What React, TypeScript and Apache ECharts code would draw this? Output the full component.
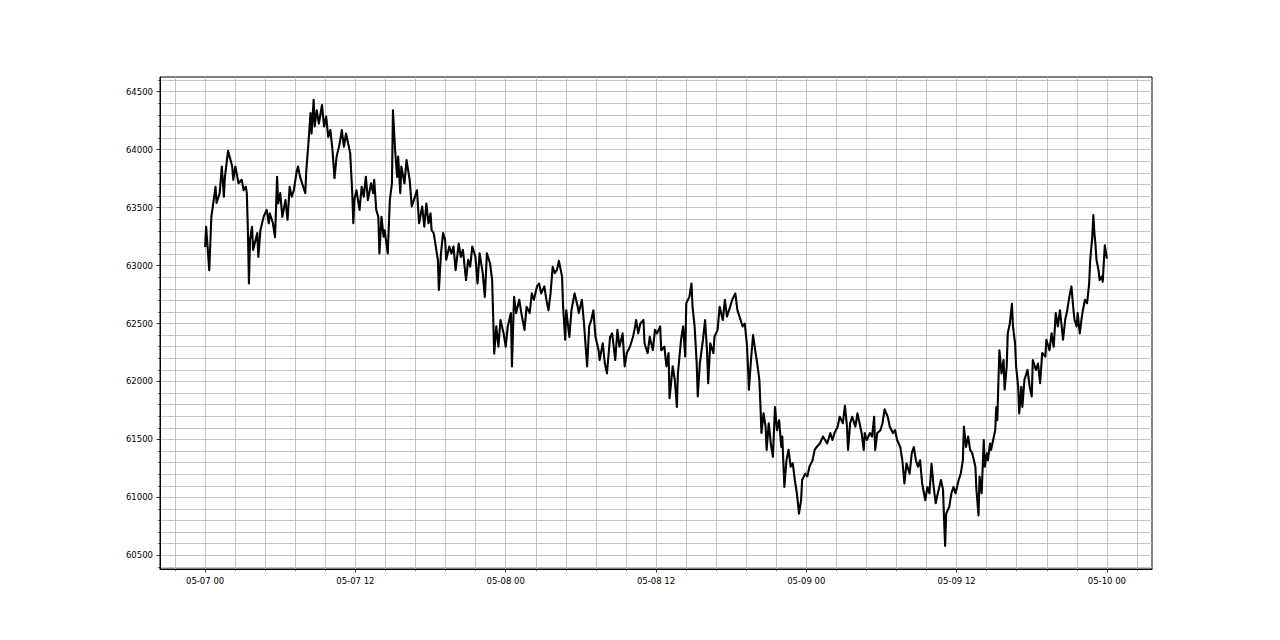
import React, { useEffect, useRef } from "react";
import * as echarts from "echarts";

// [minutes since 05-07 00:00, price]
const may07: [number, number][] = [
  [0,63160],[5,63335],[20,62960],[30,63420],[50,63680],[55,63540],[70,63625],[80,63855],[90,63595],[95,63765],
  [110,63990],[130,63855],[135,63740],[145,63855],[160,63710],[175,63740],[185,63650],[195,63680],[200,63625],[205,63305],
  [210,62845],[215,63220],[225,63335],[230,63135],[250,63280],[255,63075],[265,63305],[280,63420],[295,63480],[305,63365],
  [310,63450],[325,63365],[335,63245],[345,63765],[350,63535],[360,63625],[370,63420],[385,63565],[395,63395],[405,63680],
  [415,63595],[425,63650],[440,63825],[445,63855],[455,63765],[470,63680],[480,63625],[485,63825],[495,64055],[505,64315],
  [510,64140],[520,64430],[525,64200],[535,64340],[545,64225],[560,64385],[570,64200],[580,64285],[590,64110],[600,64170],
  [610,64000],[620,63755],[630,63940],[645,64055],[655,64170],[665,64025],[675,64140],[685,64055],[695,63970],[705,63625],
  [710,63365],[715,63565],[725,63650],[740,63480],[750,63680],[760,63595],[770,63765],[780,63565],[795,63710],[805,63625],
  [810,63740],[820,63480],[830,63420],[835,63105],[845,63420],[855,63250],[860,63305],[875,63105],[885,63565],[895,63710],
  [900,64340],[910,64000],[920,63765],[925,63940],[935,63625],[940,63855],[955,63710],[965,63910],[980,63740],[990,63510],
  [1000,63565],[1015,63650],[1025,63365],[1040,63510],[1050,63335],[1060,63535],[1070,63365],[1080,63450],[1085,63305],[1095,63280],
  [1105,63165],[1115,63050],[1120,62790],[1130,63105],[1140,63280],[1150,63220],[1155,63050],[1170,63165],[1180,63105],[1190,63165],
  [1200,62960],[1215,63190],[1225,63075],[1235,63135],[1250,62875],[1260,63050],[1270,62990],[1280,63165],[1295,63075],[1305,62845],
  [1315,63105],[1330,62935],[1340,62730],[1350,63105],[1365,63020],[1375,62875],[1380,62560],[1385,62240],[1395,62475],[1405,62300],
  [1415,62530],[1430,62415]
];

const may08: [number, number][] = [
  [1440,62300],[1450,62475],[1465,62590],[1470,62130],[1480,62730],[1490,62590],[1505,62705],[1515,62590],[1530,62445],[1540,62645],
  [1555,62590],[1565,62760],[1575,62705],[1590,62820],[1600,62845],[1610,62760],[1625,62820],[1635,62705],[1645,62615],[1655,62760],
  [1665,62990],[1675,62935],[1685,62960],[1695,63040],[1710,62905],[1715,62645],[1725,62360],[1730,62615],[1745,62385],[1755,62615],
  [1770,62760],[1785,62645],[1790,62590],[1805,62705],[1815,62500],[1830,62130],[1840,62475],[1850,62530],[1860,62615],[1870,62385],
  [1885,62270],[1890,62185],[1905,62330],[1915,62155],[1925,62070],[1940,62385],[1950,62415],[1965,62185],[1975,62445],[1985,62300],
  [2000,62415],[2010,62130],[2020,62245],[2035,62300],[2050,62385],[2060,62475],[2065,62530],[2075,62415],[2085,62500],[2100,62530],
  [2105,62330],[2120,62245],[2130,62385],[2145,62270],[2155,62445],[2165,62415],[2180,62475],[2185,62270],[2200,62300],[2210,62130],
  [2220,62245],[2225,61855],[2240,62130],[2250,62015],[2260,61780],[2265,62070],[2280,62360],[2290,62475],[2300,62215],[2305,62675],
  [2320,62730],[2330,62845],[2335,62645],[2345,62475],[2355,62155],[2360,61870],[2370,62155],[2385,62360],[2395,62530],[2405,62245],
  [2410,61985],[2420,62330],[2435,62245],[2440,62385],[2455,62445],[2465,62645],[2480,62530],[2490,62705],[2500,62560],[2515,62645],
  [2525,62705],[2540,62760],[2550,62615],[2560,62560],[2575,62475],[2585,62500],[2595,62330],[2600,62155],[2605,61930],[2615,62185],
  [2625,62400],[2635,62270],[2645,62155],[2655,62015],[2660,61810],[2665,61555],[2675,61725],[2685,61610],[2690,61410],[2700,61640],
  [2710,61465],[2720,61350],[2730,61780],[2740,61580],[2750,61665],[2760,61435],[2765,61525],[2775,61090],[2785,61320],[2795,61410],
  [2805,61265],[2815,61295],[2825,61150],[2835,61035],[2845,60860],[2855,60975],[2860,61150],[2875,61205]
];

const may09: [number, number][] = [
  [2885,61180],[2895,61265],[2910,61320],[2920,61410],[2930,61435],[2945,61465],[2960,61525],[2970,61495],[2980,61465],[2995,61555],
  [3005,61495],[3015,61555],[3030,61610],[3040,61695],[3055,61640],[3065,61790],[3075,61610],[3080,61410],[3090,61640],[3100,61695],
  [3115,61610],[3125,61725],[3135,61640],[3145,61555],[3155,61410],[3160,61555],[3170,61495],[3185,61555],[3195,61525],[3205,61695],
  [3210,61410],[3220,61555],[3235,61580],[3245,61640],[3255,61760],[3270,61695],[3280,61610],[3295,61555],[3305,61580],[3315,61495],
  [3330,61435],[3340,61320],[3350,61120],[3360,61295],[3375,61205],[3385,61380],[3395,61435],[3405,61320],[3415,61265],[3425,61320],
  [3435,61120],[3450,60975],[3460,61090],[3470,61035],[3480,61290],[3490,61090],[3500,60950],[3510,61035],[3525,61150],[3535,61065],
  [3540,60805],[3545,60580],[3550,60860],[3565,60920],[3575,61035],[3585,61090],[3595,61035],[3610,61150],[3620,61205],[3630,61320],
  [3635,61610],[3645,61435],[3655,61525],[3665,61410],[3675,61380],[3690,61265],[3695,61065],[3705,60845],[3710,61180],[3720,61035],
  [3730,61495],[3735,61265],[3745,61380],[3750,61320],[3760,61465],[3765,61410],[3775,61495],[3785,61580],[3790,61780],[3795,61665],
  [3800,61985],[3805,62270],[3815,62070],[3825,62185],[3830,61930],[3840,62130],[3845,62415],[3855,62500],[3865,62670],[3870,62475],
  [3880,62330],[3885,62130],[3895,61955],[3900,61725],[3910,61955],[3915,61780],[3925,62015],[3940,62100],[3950,61955],[3960,61870],
  [3965,62185],[3980,62100],[3990,62155],[4000,61985],[4010,62245],[4025,62215],[4030,62360],[4045,62270],[4055,62415],[4065,62300],
  [4075,62590],[4085,62475],[4095,62615],[4110,62360],[4120,62530],[4130,62615],[4140,62730],[4150,62820],[4160,62615],[4165,62530],
  [4175,62475],[4180,62590],[4190,62415],[4200,62560],[4205,62615],[4215,62705],[4225,62675],[4235,62845],[4240,63050],[4250,63250],
  [4255,63435],[4260,63280],[4265,63190],[4270,63050],[4280,62960],[4285,62875],[4295,62905],[4300,62860],[4305,63020],[4310,63175],
  [4320,63060]
];

const xTickMinutes = [0, 720, 1440, 2160, 2880, 3600, 4320];
const xTickLabels = ["05-07 00", "05-07 12", "05-08 00", "05-08 12", "05-09 00", "05-09 12", "05-10 00"];
const yTickValues = [60500, 61000, 61500, 62000, 62500, 63000, 63500, 64000, 64500];
const xMinorStep = 144;
const yMinorStep = 100;
const xRange = [-216, 4536];
const yRange = [60382, 64627];

const FONT = "DejaVu Sans";
const GRID_COLOR = "#b8b8b8";

export default function App() {
  const ref = useRef<HTMLDivElement>(null);
  useEffect(() => {
    document.body.style.margin = "0";
    const chart = echarts.init(ref.current!, null, { renderer: "svg" });

    const xMinor: number[] = [];
    for (let m = xRange[0] + 72; m <= xRange[1]; m += xMinorStep) {
      if (m % 720 !== 0) xMinor.push(m);
    }
    const yMinor: number[] = [];
    for (let v = 60400; v <= yRange[1]; v += yMinorStep) {
      if (v % 500 !== 0) yMinor.push(v);
    }

    const data = [...may07, ...may08, ...may09];

    chart.setOption({
      animation: false,
      backgroundColor: "#ffffff",
      grid: {
        left: 160,
        top: 77,
        width: 992,
        height: 492,
        show: true,
        borderColor: "#000",
        borderWidth: 1,
        backgroundColor: "transparent",
      },
      xAxis: [
        {
          type: "value",
          min: xRange[0],
          max: xRange[1],
          position: "bottom",
          axisLine: { show: true, onZero: false, lineStyle: { color: "#000", width: 1 } },
          axisTick: { show: true, length: 3.5, lineStyle: { color: "#000", width: 0.8 }, customValues: xTickMinutes },
          axisLabel: {
            show: true,
            customValues: xTickMinutes,
            margin: 7,
            color: "#000",
            fontFamily: FONT,
            fontSize: 8.5,
            formatter: (v: number) => {
              const i = xTickMinutes.indexOf(v);
              return i >= 0 ? xTickLabels[i] : "";
            },
          },
          splitLine: { show: true, lineStyle: { color: GRID_COLOR, width: 0.8 } },
        },
        {
          type: "value",
          min: xRange[0],
          max: xRange[1],
          position: "bottom",
          axisLine: { show: false, onZero: false },
          axisTick: { show: true, length: 2, lineStyle: { color: "#000", width: 0.6 }, customValues: xMinor },
          axisLabel: { show: false },
          splitLine: { show: true, lineStyle: { color: GRID_COLOR, width: 0.8 } },
        },
      ],
      yAxis: [
        {
          type: "value",
          min: yRange[0],
          max: yRange[1],
          position: "left",
          axisLine: { show: true, onZero: false, lineStyle: { color: "#000", width: 1 } },
          axisTick: { show: true, length: 3.5, lineStyle: { color: "#000", width: 0.8 }, customValues: yTickValues },
          axisLabel: {
            show: true,
            customValues: yTickValues,
            margin: 7,
            color: "#000",
            fontFamily: FONT,
            fontSize: 8.5,
            formatter: (v: number) => String(v),
          },
          splitLine: { show: true, lineStyle: { color: GRID_COLOR, width: 0.8 } },
        },
        {
          type: "value",
          min: yRange[0],
          max: yRange[1],
          position: "left",
          axisLine: { show: false, onZero: false },
          axisTick: { show: true, length: 2, lineStyle: { color: "#000", width: 0.6 }, customValues: yMinor },
          axisLabel: { show: false },
          splitLine: { show: true, lineStyle: { color: GRID_COLOR, width: 0.8 } },
        },
      ],
      series: [
        {
          type: "line",
          xAxisIndex: 0,
          yAxisIndex: 0,
          data,
          symbol: "none",
          showSymbol: false,
          lineStyle: { color: "#000", width: 2.1, join: "round" },
          z: 5,
        },
      ],
    });

    return () => chart.dispose();
  }, []);

  return <div ref={ref} style={{ width: 1280, height: 640, background: "#fff" }} />;
}
